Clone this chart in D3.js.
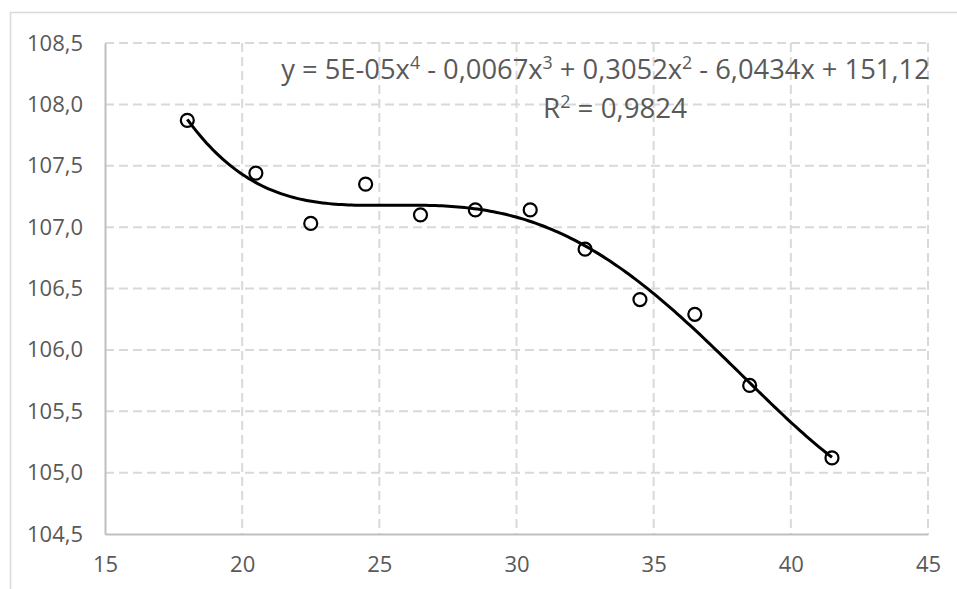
<!DOCTYPE html>
<html>
<head>
<meta charset="utf-8">
<script src="https://cdn.jsdelivr.net/npm/d3@7"></script>
<style>
    body { margin: 0; background: #fff; }
    text { font-family: "Open Sans", "Noto Sans", sans-serif; fill: #595959; }
</style>
</head>
<body>
<div id="chart"></div>
<script>
// values
const xValues = [18, 20.5, 22.5, 24.5, 26.5, 28.5, 30.5, 32.5, 34.5, 36.5, 38.5, 41.5];
const yValues = [107.87, 107.44, 107.03, 107.35, 107.10, 107.14, 107.14, 106.82, 106.41, 106.29, 105.71, 105.12];
const xTicks = [15, 20, 25, 30, 35, 40, 45];
const yTicks = [104.5, 105, 105.5, 106, 106.5, 107, 107.5, 108, 108.5];
const equationParts = [
    ["y = 5E-05x", "4"], [" - 0,0067x", "3"], [" + 0,3052x", "2"], [" - 6,0434x + 151,12", ""]
];
const r2Parts = [["R", "2"], [" = 0,9824", ""]];

const width = 957;
const height = 589;
const plot = { left: 105, right: 928, top: 43, bottom: 534 };

const fmt = d3.formatLocale({ decimal: ",", thousands: " ", grouping: [3], currency: ["", ""] });
const yFormat = fmt.format(".1f");

const svg = d3.select("#chart")
    .append("svg")
    .attr("width", width)
    .attr("height", height);

// chart border (cropped in the reference)
svg.append("rect")
    .attr("x", 10.5)
    .attr("y", 12.5)
    .attr("width", 1000)
    .attr("height", 700)
    .attr("fill", "none")
    .attr("stroke", "#d9d9d9")
    .attr("stroke-width", 1.5);

const x = d3.scaleLinear().domain([15, 45]).range([plot.left, plot.right]);
const y = d3.scaleLinear().domain([104.5, 108.5]).range([plot.bottom, plot.top]);

// dashed gridlines
svg.append("g")
    .selectAll("line")
    .data(yTicks.slice(1))
    .join("line")
    .attr("x1", plot.left)
    .attr("x2", plot.right)
    .attr("y1", d => y(d))
    .attr("y2", d => y(d))
    .attr("stroke", "#d9d9d9")
    .attr("stroke-width", 2)
    .attr("stroke-dasharray", "9,5");

svg.append("g")
    .selectAll("line")
    .data(xTicks.slice(1))
    .join("line")
    .attr("x1", d => x(d))
    .attr("x2", d => x(d))
    .attr("y1", plot.top)
    .attr("y2", plot.bottom)
    .attr("stroke", "#d9d9d9")
    .attr("stroke-width", 2)
    .attr("stroke-dasharray", "9,5");

// axes
const xAxis = svg.append("g")
    .attr("transform", `translate(0, ${plot.bottom})`)
    .call(d3.axisBottom(x).tickValues(xTicks).tickSize(0).tickPadding(22));
xAxis.select(".domain").attr("stroke", "#bfbfbf").attr("stroke-width", 2);
xAxis.selectAll("text").style("font-size", "22px").attr("fill", "#595959");

const yAxis = svg.append("g")
    .attr("transform", `translate(${plot.left}, 0)`)
    .call(d3.axisLeft(y).tickValues(yTicks).tickFormat(yFormat).tickSize(0).tickPadding(22));
yAxis.select(".domain").attr("stroke", "#bfbfbf").attr("stroke-width", 2);
yAxis.selectAll("text").style("font-size", "22px").attr("fill", "#595959");

// polynomial (order 4) least squares trendline, fitted on scaled x
function polyFit(xs, ys, order) {
    const mean = d3.mean(xs);
    const sd = d3.deviation(xs);
    const n = order + 1;
    const A = Array.from({ length: n }, () => new Array(n + 1).fill(0));
    xs.forEach((xv, k) => {
        const t = (xv - mean) / sd;
        for (let i = 0; i < n; i++) {
            for (let j = 0; j < n; j++) A[i][j] += Math.pow(t, i + j);
            A[i][n] += ys[k] * Math.pow(t, i);
        }
    });
    for (let c = 0; c < n; c++) {
        let p = c;
        for (let r = c + 1; r < n; r++) if (Math.abs(A[r][c]) > Math.abs(A[p][c])) p = r;
        [A[c], A[p]] = [A[p], A[c]];
        for (let r = 0; r < n; r++) {
            if (r === c) continue;
            const f = A[r][c] / A[c][c];
            for (let k = c; k <= n; k++) A[r][k] -= f * A[c][k];
        }
    }
    const coef = A.map((row, i) => row[n] / row[i]);
    return xv => {
        const t = (xv - mean) / sd;
        return coef.reduce((s, c, i) => s + c * Math.pow(t, i), 0);
    };
}

const trend = polyFit(xValues, yValues, 4);
const [xMin, xMax] = d3.extent(xValues);
const trendPoints = d3.range(0, 201).map(i => {
    const xv = xMin + (xMax - xMin) * i / 200;
    return [xv, trend(xv)];
});

svg.append("path")
    .datum(trendPoints)
    .attr("fill", "none")
    .attr("stroke", "#000")
    .attr("stroke-width", 3)
    .attr("d", d3.line().x(d => x(d[0])).y(d => y(d[1])));

// markers
svg.append("g")
    .selectAll("circle")
    .data(xValues.map((xv, i) => ({ x: xv, y: yValues[i] })))
    .join("circle")
    .attr("cx", d => x(d.x))
    .attr("cy", d => y(d.y))
    .attr("r", 6.5)
    .attr("fill", "none")
    .attr("stroke", "#000")
    .attr("stroke-width", 2.2);

// trendline label, sized to the width it has in the reference
function drawLabel(parts, cx, baseline, size) {
    const t = svg.append("text")
        .attr("x", cx)
        .attr("y", baseline)
        .attr("text-anchor", "middle")
        .style("font-size", size + "px");
    const raise = size * 0.36;
    let shift = 0;
    parts.forEach(([main, sup]) => {
        t.append("tspan").attr("dy", shift).text(main);
        shift = 0;
        if (sup) {
            t.append("tspan")
                .attr("dy", -raise)
                .style("font-size", (size * 0.65) + "px")
                .text(sup);
            shift = raise;
        }
    });
    return t;
}

function label(parts, left, right, baseline) {
    const probe = drawLabel(parts, 0, -100, 20);
    const size = 20 * (right - left) / probe.node().getComputedTextLength();
    probe.remove();
    return drawLabel(parts, (left + right) / 2, baseline, size);
}

label(equationParts, 281, 930, 79);
label(r2Parts, 543, 687, 118);
</script>
</body>
</html>
